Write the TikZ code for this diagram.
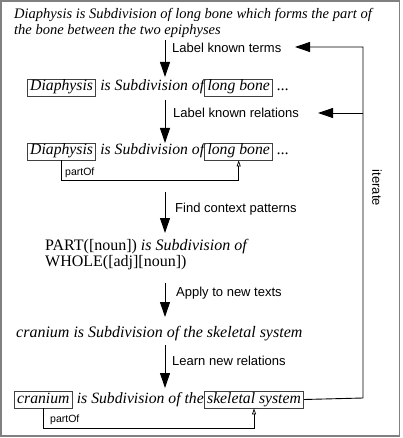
\documentclass[tikz,border=0pt]{standalone}
\usepackage{fontspec}
\setmainfont{Liberation Serif}
\setsansfont{Liberation Sans}
\usetikzlibrary{arrows.meta}
\begin{document}
\begin{tikzpicture}[x=1pt,y=-1pt,
  ser/.style={font=\fontsize{14.5}{16}\selectfont\itshape, inner sep=0pt, anchor=base west},
  serb/.style={font=\fontsize{15.7}{17}\selectfont\itshape, inner sep=0pt, anchor=base west},
  serc/.style={font=\fontsize{16}{17}\selectfont, inner sep=0pt, anchor=base west},
  lab/.style={font=\sffamily\fontsize{13}{15}\selectfont, inner sep=0pt, anchor=west},
  tiny/.style={font=\sffamily\fontsize{10.5}{12}\selectfont, inner sep=0pt, anchor=base west},
  term/.style={draw=black!75, line width=0.8pt, inner xsep=2.8pt, inner ysep=1.5pt, text height=10.5pt, text depth=3.5pt, anchor=base west, font=\fontsize{15.7}{17}\selectfont\itshape},
  flow/.style={line width=0.9pt, -{Triangle[length=15pt,width=10pt]}},
  rel/.style={line width=0.7pt, -{Triangle[open,length=6pt,width=4pt]}},
]
\useasboundingbox (0,0) rectangle (402,438);
\draw[gray, line width=1.6pt] (1,1) rectangle (399.5,436);

% row 1
\node[ser] (r1a) at (14,19) {Diaphysis is Subdivision of long bone which forms the part of};
\node[ser] (r1b) at (14,35) {the bone between the two epiphyses};

% row 3
\node[term] (d1) at (27,91) {Diaphysis};
\node[serb] (t1) at (d1.base east) {\ is Subdivision of};
\node[term] (lb1) at (t1.base east) {long bone};
\node[serb] (e1) at (lb1.base east) {\ ...};

% row 4
\node[term] (d2) at (27,155) {Diaphysis};
\node[serb] (t2) at (d2.base east) {\ is Subdivision of};
\node[term] (lb2) at (t2.base east) {long bone};
\node[serb] (e2) at (lb2.base east) {\ ...};
\draw[rel] (d2.south) -- ++(0,20) -| (lb2.south);
\node[tiny] (p1) at (65,176) {partOf};

% row 5
\node[serc] (pt) at (45,250) {PART([noun]) \textit{is Subdivision of}};
\node[serc] (wh) at (45,266) {WHOLE([adj][noun])};

% row 6
\node[serc, font=\fontsize{16}{17}\selectfont\itshape] (cr) at (16,337) {cranium is Subdivision of the skeletal system};

% row 7
\node[term] (c2) at (14,403) {cranium};
\node[serb] (t3) at (c2.base east) {\ is Subdivision of the\ };
\node[term] (s2) at (t3.base east) {skeletal system};
\draw[rel] (c2.south) -- ++(0,20) -| (s2.south);
\node[tiny] (p2) at (50,422) {partOf};

% flow arrows
\coordinate (a1s) at (165,40);  \coordinate (a1e) at (165,77);
\coordinate (a2s) at (165,100); \coordinate (a2e) at (165,143);
\coordinate (a3s) at (165,192); \coordinate (a3e) at (165,233);
\coordinate (a4s) at (165,283); \coordinate (a4e) at (165,317);
\coordinate (a5s) at (165,345); \coordinate (a5e) at (165,388);
\draw[flow] (a1s) -- (a1e);
\draw[flow] (a2s) -- (a2e);
\draw[flow] (a3s) -- (a3e);
\draw[flow] (a4s) -- (a4e);
\draw[flow] (a5s) -- (a5e);

\node[lab] (l1) at (172,48) {Label known terms};
\node[lab] (l2) at (173,113) {Label known relations};
\node[lab] (l3) at (175,209) {Find context patterns};
\node[lab] (l4) at (176,293) {Apply to new texts};
\node[lab] (l5) at (172,361) {Learn new relations};

% iterate loop
\coordinate (lb) at (363,398);
\coordinate (lt) at (363,47);
\coordinate (lm) at (363,113);
\coordinate (i1) at (295,47);
\coordinate (i2) at (318,113);
\draw[flow] (s2.east) -- (lb) -- (lt) -- (i1);
\draw[flow] (lm) -- (i2);
\node[lab, anchor=center, rotate=-90] (it) at (377,188) {iterate};
\end{tikzpicture}
\end{document}
